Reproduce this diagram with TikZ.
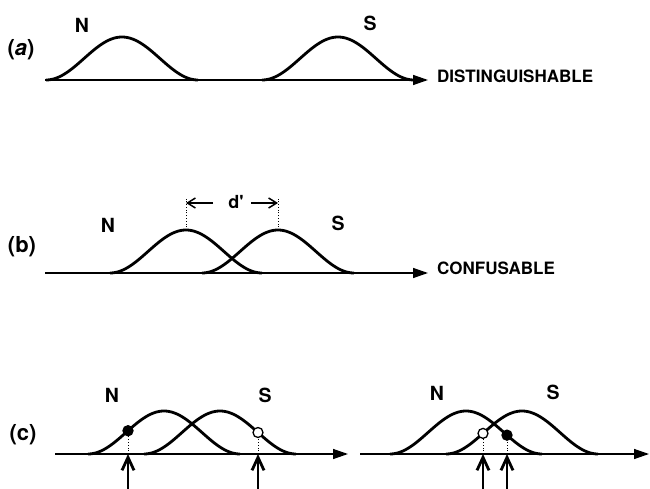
\documentclass[tikz,border=0pt]{standalone}
\usepackage{fontspec}
\setmainfont{TeX Gyre Heros}
\usetikzlibrary{arrows.meta}

% one bell-shaped distribution: centre x, baseline y
\newcommand{\bellcurve}[2]{%
  \draw[bell] plot[domain=-76:76, samples=61] ({#1+\x}, {#2-43*(1+cos(\x*180/76))/2});}

\begin{document}
\begin{tikzpicture}[x=1pt, y=-1pt,
	every node/.style={inner sep=0pt},
	lbl/.style={font=\bfseries\fontsize{22}{24}\selectfont},
	distlabel/.style={font=\bfseries\fontsize{19.5}{22}\selectfont},
	axislabel/.style={font=\bfseries\fontsize{17}{20}\selectfont, anchor=west},
	axisline/.style={line width=1.4pt, -{Triangle[length=15pt,width=10pt]}},
	bell/.style={line width=2.8pt, line join=round},
	guide/.style={line width=0.8pt, dotted},
	dprime/.style={line width=1.5pt, -{Straight Barb[length=8pt,width=10pt]}},
	crit/.style={line width=2.8pt, -{Straight Barb[length=13pt,width=12pt]}},
	hit/.style={circle, draw, line width=1.3pt, fill=black, minimum size=10pt},
	miss/.style={circle, draw, line width=1.3pt, fill=white, minimum size=10pt}]
	\useasboundingbox (0,0) rectangle (650,489);

	% (a) distinguishable
	\node[lbl] (pa) at (21,50) {(\textit{a})};
	\coordinate (a0) at (45,80);
	\coordinate (a1) at (428,80);
	\bellcurve{122}{80}
	\bellcurve{338}{80}
	\draw[axisline] (a0) -- (a1);
	\node[axislabel] (dist) at (437,76) {DISTINGUISHABLE};
	\node[distlabel] (aN) at (82,25) {N};
	\node[distlabel] (aS) at (370,23) {S};

	% (b) confusable
	\node[lbl] (pb) at (22,247) {(b)};
	\coordinate (b0) at (45,273);
	\coordinate (b1) at (428,273);
	\bellcurve{186}{273}
	\bellcurve{278}{273}
	\draw[axisline] (b0) -- (b1);
	\node[axislabel] (conf) at (437,268) {CONFUSABLE};
	\node[distlabel] (bN) at (108,225) {N};
	\node[distlabel] (bS) at (338,223) {S};
	\coordinate (pkN) at (186,230);
	\coordinate (pkS) at (278,230);
	\coordinate (tN) at (186,199);
	\coordinate (tS) at (278,199);
	\draw[guide] (pkN) -- (tN);
	\draw[guide] (pkS) -- (tS);
	\node[font=\bfseries\fontsize{18}{20}\selectfont] (d) at (236,202) {d\textquotesingle};
	\coordinate (dl) at (213,203);
	\coordinate (dr) at (251,203);
	\draw[dprime] (dl) -- (tN |- dl);
	\draw[dprime] (dr) -- (tS |- dr);

	% (c) two criteria
	\node[lbl] (pc) at (23,435) {(c)};
	\coordinate (c0) at (55,454);
	\coordinate (c1) at (348,454);
	\coordinate (e0) at (360,454);
	\coordinate (e1) at (649,454);
	\bellcurve{164}{454}
	\bellcurve{220}{454}
	\bellcurve{466}{454}
	\bellcurve{522}{454}
	\draw[axisline] (c0) -- (c1);
	\draw[axisline] (e0) -- (e1);
	\node[distlabel] (cN) at (112,395) {N};
	\node[distlabel] (cS) at (265,395) {S};
	\node[distlabel] (eN) at (437,393) {N};
	\node[distlabel] (eS) at (553,392) {S};

	\node[hit] (hitL) at (128,{454-43*(1+cos((128-164)*180/76))/2}) {};
	\node[miss] (missL) at (258,{454-43*(1+cos((258-220)*180/76))/2}) {};
	\node[miss] (missR) at (483,{454-43*(1+cos((483-522)*180/76))/2}) {};
	\node[hit] (hitR) at (507,{454-43*(1+cos((507-466)*180/76))/2}) {};

	\coordinate (qL1) at (128,454);
	\coordinate (qL2) at (258,454);
	\coordinate (qR1) at (483,454);
	\coordinate (qR2) at (507,454);
	\draw[guide] (qL1) -- (hitL);
	\draw[guide] (qL2) -- (missL);
	\draw[guide] (qR1) -- (missR);
	\draw[guide] (qR2) -- (hitR);
	\draw[crit] (qL1 |- 0,489) -- (qL1);
	\draw[crit] (qL2 |- 0,489) -- (qL2);
	\draw[crit] (qR1 |- 0,489) -- (qR1);
	\draw[crit] (qR2 |- 0,489) -- (qR2);
\end{tikzpicture}
\end{document}
